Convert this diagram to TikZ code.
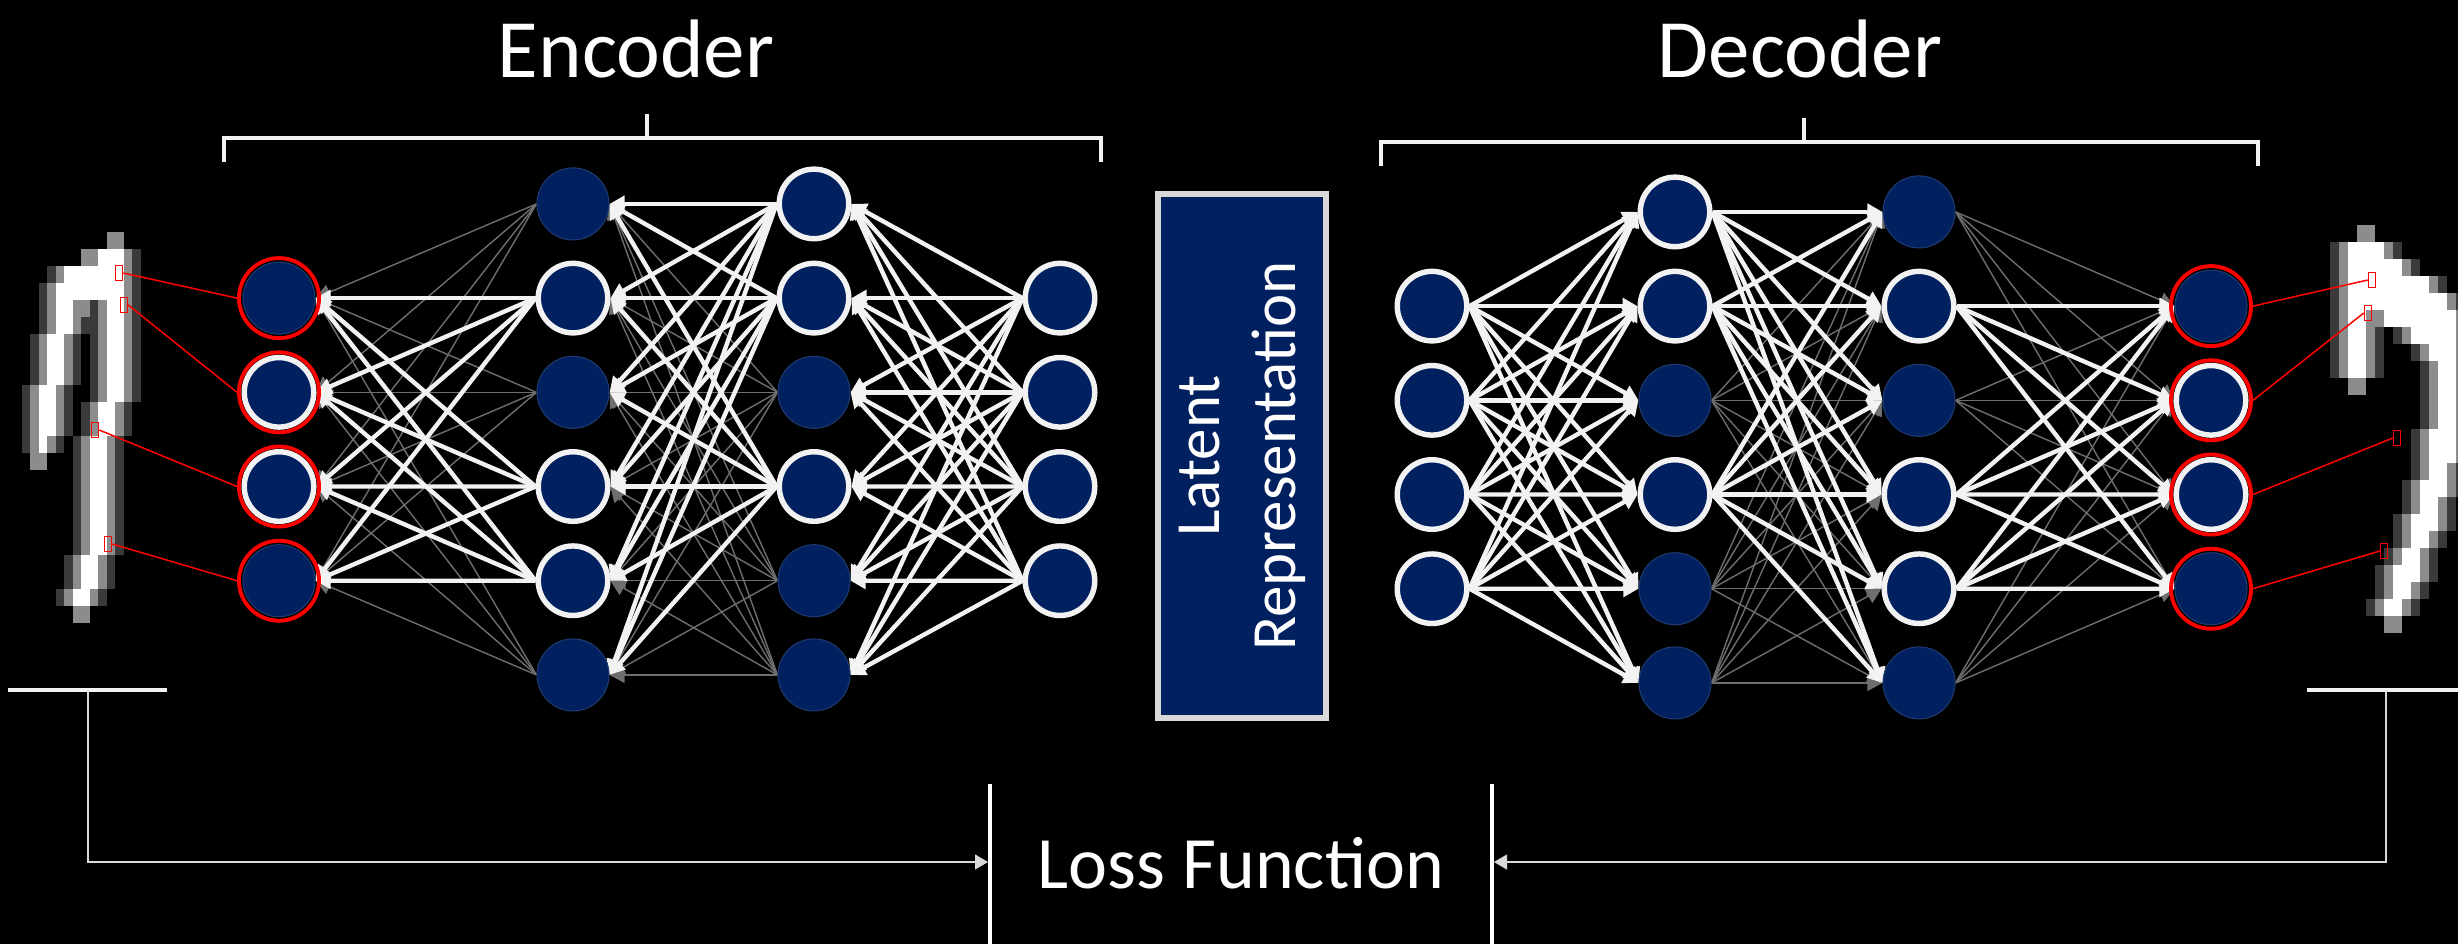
\documentclass[tikz,border=0pt]{standalone}
\usepackage{fontspec}
\setmainfont{Carlito}
\usepackage{tikz}
\usetikzlibrary{arrows.meta, positioning, calc}
\definecolor{aenavy}{HTML}{002060}
\definecolor{aenavyedge}{HTML}{1F3A6E}
\definecolor{aering}{HTML}{F2F2F2}
\definecolor{aegray}{HTML}{6E6E6E}
\definecolor{aered}{HTML}{FF0000}
\definecolor{aeframe}{HTML}{D9D9D9}
\definecolor{pixmid}{HTML}{8C8C8C}
\definecolor{pixdark}{HTML}{3A3A3A}

\pgfdeclarelayer{back}
\pgfdeclarelayer{wires}
\pgfsetlayers{back,wires,main}

% grey-level digit: x0, y0, cell width, white runs (row/from/to), grey end cells (row/col)
\newcommand{\pixeldigit}[5]{%
  \foreach \r/\a/\b in {#4} {
    \fill[pixdark] ({#1+#3*(\a-2)},{#2+17*\r}) rectangle ++({2*#3},17);
    \fill[pixdark] ({#1+#3*(\b+1)},{#2+17*\r}) rectangle ++({2*#3},17);
  }
  \foreach \r/\a/\b in {#4} {
    \fill[pixmid] ({#1+#3*(\a-1)},{#2+17*\r}) rectangle ++(#3,17);
    \fill[pixmid] ({#1+#3*(\b+1)},{#2+17*\r}) rectangle ++(#3,17);
  }
  \foreach \r/\c in {#5}
    \fill[pixmid] ({#1+#3*\c},{#2+17*\r}) rectangle ++(#3,17);
  \foreach \r/\a/\b in {#4}
    \fill[white] ({#1+#3*\a},{#2+17*\r}) rectangle ({#1+#3*(\b+1)},{#2+17*(\r+1)});
}

\begin{document}
\begin{tikzpicture}[x=0.01cm, y=-0.01cm,
    neuron/.style={circle, fill=aenavy, draw=aenavyedge, line width=0.3pt,
                   minimum size=7.2mm, inner sep=0pt},
    idle/.style={neuron},
    active/.style={neuron, draw=aering, line width=1.55pt, minimum size=6.95mm},
    probe/.style={circle, draw=aered, line width=1.1pt, minimum size=8mm, inner sep=0pt},
    pixel/.style={draw=aered, line width=0.43pt, minimum width=0.7mm,
                  minimum height=1.5mm, inner sep=0pt},
    probeline/.style={draw=aered, line width=0.43pt},
    strong/.style={draw=aering, line width=1.25pt, -{Triangle[length=1.5mm, width=1.6mm]}},
    weak/.style={draw=aegray, line width=0.4pt, -{Triangle[length=1.5mm, width=1.6mm]}},
    bracket/.style={draw=aering, line width=1.4pt},
    title/.style={text=white, font=\fontsize{23.6}{28}\selectfont},
    latent/.style={draw=aeframe, fill=aenavy, line width=1.7pt, rotate=90,
                   minimum width=52.4mm, minimum height=16.8mm, align=center,
                   text=white, font=\fontsize{17.9}{21.6}\selectfont},
    lossline/.style={draw=aeframe, line width=0.4pt, -{Triangle[length=1.3mm, width=1.5mm]}},
    divider/.style={draw=white, line width=0.95pt}
  ]
  \useasboundingbox (0,0) rectangle (2458,944);
  \begin{pgfonlayer}{back}
    \fill[black] (0,0) rectangle (2458,944);
  \end{pgfonlayer}

  % input and reconstructed digits
  \pixeldigit{30}{232}{8.5}{1/8/10, 2/4/10, 3/3/10, 4/3/4, 4/9/10, 5/3/4, 5/9/10,
    6/2/3, 6/9/10, 7/2/3, 7/9/10, 8/2/3, 8/9/10, 9/1/2, 9/9/10, 10/1/2, 10/8/9,
    11/1/2, 11/8/9, 12/1/1, 12/7/8, 13/7/8, 14/7/8, 15/7/8, 16/7/8, 17/7/8,
    18/7/8, 19/6/7, 20/6/7, 21/5/6}{0/9, 0/10, 1/6, 1/7, 4/5, 4/6, 13/0, 13/1, 22/5, 22/6}
  \pixeldigit{2330}{225}{9}{1/2/5, 2/2/7, 3/2/10, 4/2/12, 5/2/3, 5/6/13, 6/2/3, 6/9/13,
    7/2/3, 7/11/13, 8/2/3, 8/12/13, 9/12/13, 10/12/13, 11/12/13, 12/11/13, 13/11/13,
    14/11/12, 15/10/12, 16/10/11, 17/9/11, 18/9/10, 19/8/9, 20/7/9, 21/7/8,
    22/6/7}{0/3, 0/4, 9/2, 9/3, 23/6, 23/7}

  % encoder layers
  \foreach \i/\s in {1/idle,2/active,3/active,4/idle}
    \node[\s] (e1-\i) at (279, {298.1+94.2*(\i-1)}) {};
  \foreach \i/\s in {1/idle,2/active,3/idle,4/active,5/active,6/idle}
    \node[\s] (e2-\i) at (573, {203.9+94.2*(\i-1)}) {};
  \foreach \i/\s in {1/active,2/active,3/idle,4/active,5/idle,6/idle}
    \node[\s] (e3-\i) at (814, {203.9+94.2*(\i-1)}) {};
  \foreach \i in {1,...,4}
    \node[active] (e4-\i) at (1060, {298.1+94.2*(\i-1)}) {};

  % decoder layers
  \foreach \i in {1,...,4}
    \node[active] (d1-\i) at (1432, {306.1+94.2*(\i-1)}) {};
  \foreach \i/\s in {1/active,2/active,3/idle,4/active,5/idle,6/idle}
    \node[\s] (d2-\i) at (1675, {211.9+94.2*(\i-1)}) {};
  \foreach \i/\s in {1/idle,2/active,3/idle,4/active,5/active,6/idle}
    \node[\s] (d3-\i) at (1919, {211.9+94.2*(\i-1)}) {};
  \foreach \i/\s in {1/idle,2/active,3/active,4/idle}
    \node[\s] (d4-\i) at (2211, {306.1+94.2*(\i-1)}) {};

  \foreach \i in {1,...,4} {
    \node[probe] (e1r-\i) at (e1-\i) {};
    \node[probe] (d4r-\i) at (d4-\i) {};
  }

  % weights, grey ones first
  \begin{pgfonlayer}{wires}
    \foreach \i in {1,...,4} \foreach \j in {1,...,6}
      \draw[strong] (e4-\i.west) -- (e3-\j.east);
    \foreach \i in {3,5,6} \foreach \j in {1,...,6}
      \draw[weak] (e3-\i.west) -- (e2-\j.east);
    \foreach \i in {1,2,4} \foreach \j in {1,...,6}
      \draw[strong] (e3-\i.west) -- (e2-\j.east);
    \foreach \i in {1,3,6} \foreach \j in {1,...,4}
      \draw[weak] (e2-\i.west) -- (e1-\j.east);
    \foreach \i in {2,4,5} \foreach \j in {1,...,4}
      \draw[strong] (e2-\i.west) -- (e1-\j.east);

    \foreach \i in {1,...,4} \foreach \j in {1,...,6}
      \draw[strong] (d1-\i.east) -- (d2-\j.west);
    \foreach \i in {3,5,6} \foreach \j in {1,...,6}
      \draw[weak] (d2-\i.east) -- (d3-\j.west);
    \foreach \i in {1,2,4} \foreach \j in {1,...,6}
      \draw[strong] (d2-\i.east) -- (d3-\j.west);
    \foreach \i in {1,3,6} \foreach \j in {1,...,4}
      \draw[weak] (d3-\i.east) -- (d4-\j.west);
    \foreach \i in {2,4,5} \foreach \j in {1,...,4}
      \draw[strong] (d3-\i.east) -- (d4-\j.west);
  \end{pgfonlayer}

  % sampled pixels
  \node[pixel] (lp-1) at (119,273) {};
  \node[pixel] (lp-2) at (124,305) {};
  \node[pixel] (lp-3) at (95,430) {};
  \node[pixel] (lp-4) at (108,544) {};
  \node[pixel] (rp-1) at (2372,280) {};
  \node[pixel] (rp-2) at (2368,313) {};
  \node[pixel] (rp-3) at (2397,438) {};
  \node[pixel] (rp-4) at (2384,551) {};
  \foreach \i in {1,...,4} {
    \draw[probeline] (lp-\i.east) -- (e1r-\i.west);
    \draw[probeline] (rp-\i.west) -- (d4r-\i.east);
  }

  % code in the middle
  \node[latent] (latent) at (1242,456) {Latent\\Representation};

  % titles and braces
  \node[title, anchor=base] (enc) at (636,77) {Encoder};
  \node[title, anchor=base] (dec) at (1800,77) {Decoder};
  \draw[bracket] (224,162) -- (224,138) -- (1101,138) -- (1101,162)
                 (647,138) -- (647,114);
  \draw[bracket] (1381,166) -- (1381,142) -- (2258,142) -- (2258,166)
                 (1804,142) -- (1804,118);

  % loss
  \draw[bracket, line width=1.15pt] (8,690) -- (167,690);
  \draw[bracket, line width=1.15pt] (2307,690) -- (2470,690);
  \coordinate (lfoot) at (88,690);
  \coordinate (rfoot) at (2386,690);
  \coordinate (lend) at (988,862);
  \coordinate (rend) at (1494,862);
  \draw[divider] (990,784) -- (990,950);
  \draw[divider] (1492,784) -- (1492,950);
  \node[title, anchor=base, font=\fontsize{21}{25}\selectfont] (loss) at (1241,888) {Loss Function};
  \draw[lossline] (lfoot) |- (lend);
  \draw[lossline] (rfoot) |- (rend);
\end{tikzpicture}
\end{document}
